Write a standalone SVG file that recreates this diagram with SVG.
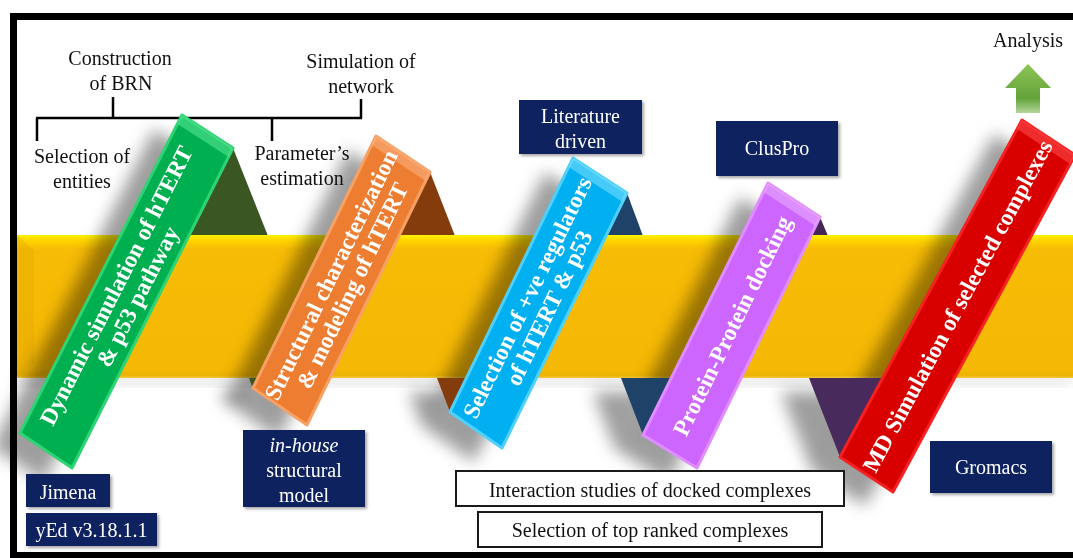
<svg xmlns="http://www.w3.org/2000/svg" width="1073" height="558" viewBox="0 0 1073 558">
<defs>
<style>
.t{font-family:"Liberation Serif","Times New Roman",serif;fill:#111;font-size:20px;text-anchor:middle}
.w{font-family:"Liberation Serif","Times New Roman",serif;fill:#fff;font-size:20px;text-anchor:middle}
.r{font-family:"Liberation Serif","Times New Roman",serif;fill:#fff;font-size:23.5px;font-weight:bold;text-anchor:middle}
.nb{fill:#0A215E}
.wb{fill:#fff;stroke:#1a1a1a;stroke-width:2}
.ln{stroke:#000;stroke-width:2.5;fill:none}
.bev{opacity:0.55}
.sh{fill:#000;opacity:0.38}
</style>
<filter id="blur" x="-40%" y="-40%" width="180%" height="180%"><feGaussianBlur stdDeviation="8"/></filter>
<filter id="ds" x="-20%" y="-20%" width="140%" height="140%"><feDropShadow dx="2" dy="2" stdDeviation="1.5" flood-color="#000" flood-opacity="0.35"/></filter>
<linearGradient id="band" x1="0" y1="0" x2="0" y2="1">
<stop offset="0" stop-color="#FFF200"/>
<stop offset="0.04" stop-color="#FFD400"/>
<stop offset="0.1" stop-color="#F7BC06"/>
<stop offset="0.94" stop-color="#F5B805"/>
<stop offset="0.98" stop-color="#EDB300"/>
<stop offset="1" stop-color="#F4C63A"/>
</linearGradient>
<linearGradient id="arrow" x1="0" y1="0" x2="0" y2="1">
<stop offset="0" stop-color="#8DC456"/>
<stop offset="0.7" stop-color="#63A33A"/>
<stop offset="1" stop-color="#B5D69A"/>
</linearGradient>
</defs>
<rect x="0" y="0" width="1073" height="558" fill="#fff"/>

<g id="connectors">
<line class="ln" x1="113" y1="97" x2="113" y2="118"/>
<line class="ln" x1="361" y1="99" x2="361" y2="118"/>
<line class="ln" x1="36" y1="118" x2="362" y2="118"/>
<line class="ln" x1="37" y1="118" x2="37" y2="141"/>
<line class="ln" x1="272" y1="118" x2="272" y2="141"/>
</g>

<g id="folds-top">
<polygon points="233,148 268,236 185,236" fill="#3A5723"/>
<polygon points="430,172 455,236 395,236" fill="#843C0C"/>
<polygon points="627,193 643,236 600,236" fill="#1F4368"/>
<polygon points="820,217 828,236 805,236" fill="#432754"/>
</g>

<rect x="17" y="374" width="1056" height="10" fill="#000" opacity="0.12" filter="url(#blur)"/>
<g id="band-bar">
<rect x="17" y="235" width="1056" height="143" fill="url(#band)"/>
<polygon points="17,235 34,250 34,363 17,378" fill="#E0A500" opacity="0.35"/>
</g>

<g id="shadows" filter="url(#blur)" transform="translate(-28,14)">
<polygon class="sh" points="20,433 182,115 233,148 72,468"/>
<polygon class="sh" points="253,388 376,136 430,172 307,425"/>
<polygon class="sh" points="450,412 573,158 627,193 502,448"/>
<polygon class="sh" points="643,435 768,183 820,217 697,468"/>
<polygon class="sh" points="840,457 1022,120 1075,155 893,492"/>
<polygon class="sh" points="249,378 275,378 253,389"/>
<polygon class="sh" points="437,378 470,378 450,412"/>
<polygon class="sh" points="621,378 670,378 643,435"/>
<polygon class="sh" points="809,378 885,378 840,457"/>
</g>

<g id="folds-bottom">
<polygon points="249,378 275,378 253,389" fill="#3A5723"/>
<polygon points="437,378 470,378 450,412" fill="#843C0C"/>
<polygon points="621,378 670,378 643,435" fill="#1F4368"/>
<polygon points="809,378 885,378 840,457" fill="#482A5C"/>
</g>

<g id="ribbon-dynamic">
<polygon points="20,433 182,115 233,148 72,468" fill="#00B050" stroke="#2ED373" stroke-width="3" stroke-linejoin="round"/>
<polygon class="bev" points="182,115 233,148 228.5,157 177.5,124" fill="#5BEA96"/>
<g transform="translate(126.75,291) rotate(-63)">
<text class="r" x="0" y="-4" font-size="24">Dynamic simulation of hTERT</text>
<text class="r" x="0" y="20" font-size="24">&amp; p53 pathway</text>
</g>
</g>

<g id="ribbon-structural">
<polygon points="253,388 376,136 430,172 307,425" fill="#ED7D31" stroke="#F7A064" stroke-width="3" stroke-linejoin="round"/>
<polygon class="bev" points="376,136 430,172 425.6,181 371.6,145" fill="#FBB585"/>
<g transform="translate(341.5,280.25) rotate(-64)">
<text class="r" x="0" y="-4">Structural characterization</text>
<text class="r" x="0" y="20">&amp; modeling of hTERT</text>
</g>
</g>

<g id="ribbon-selection">
<polygon points="450,412 573,158 627,193 502,448" fill="#00B0F0" stroke="#4FD0FA" stroke-width="3" stroke-linejoin="round"/>
<polygon class="bev" points="573,158 627,193 622.6,202 568.6,167" fill="#7FE0FF"/>
<g transform="translate(538,302.75) rotate(-64)">
<text class="r" x="0" y="-4">Selection of +ve regulators</text>
<text class="r" x="0" y="20">of hTERT &amp; p53</text>
</g>
</g>

<g id="ribbon-docking">
<polygon points="643,435 768,183 820,217 697,468" fill="#CC66FF" stroke="#E08DFF" stroke-width="3" stroke-linejoin="round"/>
<polygon class="bev" points="768,183 820,217 815.6,226 763.6,192" fill="#EBAEFF"/>
<g transform="translate(732,325.75) rotate(-64)">
<text class="r" x="0" y="8">Protein-Protein docking</text>
</g>
</g>

<g id="ribbon-md">
<polygon points="840,457 1022,120 1075,155 893,492" fill="#D90000" stroke="#F52020" stroke-width="3" stroke-linejoin="round"/>
<polygon class="bev" points="1022,120 1075,155 1070,164 1017,129" fill="#FF5050"/>
<g transform="translate(957.5,306) rotate(-61.6)">
<text class="r" x="0" y="8">MD Simulation of selected complexes</text>
</g>
</g>

<g id="label-construction"><text class="t" x="120" y="65">Construction</text><text class="t" x="121" y="90">of BRN</text></g>
<g id="label-simulation"><text class="t" x="361" y="68">Simulation of</text><text class="t" x="361" y="93">network</text></g>
<g id="label-entities"><text class="t" x="82" y="163">Selection of</text><text class="t" x="82" y="188">entities</text></g>
<g id="label-parameters"><text class="t" x="302" y="160">Parameter’s</text><text class="t" x="302" y="185">estimation</text></g>

<g id="box-jimena"><rect class="nb" x="26" y="474" width="84" height="33" filter="url(#ds)"/><text class="w" x="68" y="499">Jimena</text></g>
<g id="box-yed"><rect class="nb" x="26" y="513" width="131" height="33" filter="url(#ds)"/><text class="w" x="91.5" y="537">yEd v3.18.1.1</text></g>
<g id="box-inhouse"><rect class="nb" x="243" y="430" width="122" height="77" filter="url(#ds)"/><text class="w" x="304" y="452" font-style="italic">in-house</text><text class="w" x="304" y="477">structural</text><text class="w" x="304" y="502">model</text></g>
<g id="box-literature"><rect class="nb" x="519" y="100" width="123" height="54" filter="url(#ds)"/><text class="w" x="580.5" y="123">Literature</text><text class="w" x="580.5" y="148">driven</text></g>
<g id="box-cluspro"><rect class="nb" x="716" y="121" width="122" height="55" filter="url(#ds)"/><text class="w" x="777" y="155">ClusPro</text></g>
<g id="box-gromacs"><rect class="nb" x="930" y="441" width="122" height="52" filter="url(#ds)"/><text class="w" x="991" y="474">Gromacs</text></g>

<g id="box-interaction"><rect class="wb" x="456" y="471" width="388" height="35"/><text class="t" x="650" y="497">Interaction studies of docked complexes</text></g>
<g id="box-toprank"><rect class="wb" x="478" y="512" width="344" height="35"/><text class="t" x="650" y="537">Selection of top ranked complexes</text></g>

<g id="analysis">
<text class="t" x="1028" y="47">Analysis</text>
<polygon points="1028,64 1051,88 1040,88 1040,113 1016,113 1016,88 1005,88" fill="url(#arrow)"/>
</g>

<rect id="frame" x="13.5" y="16.5" width="1075" height="539" fill="none" stroke="#000" stroke-width="7"/>
</svg>
